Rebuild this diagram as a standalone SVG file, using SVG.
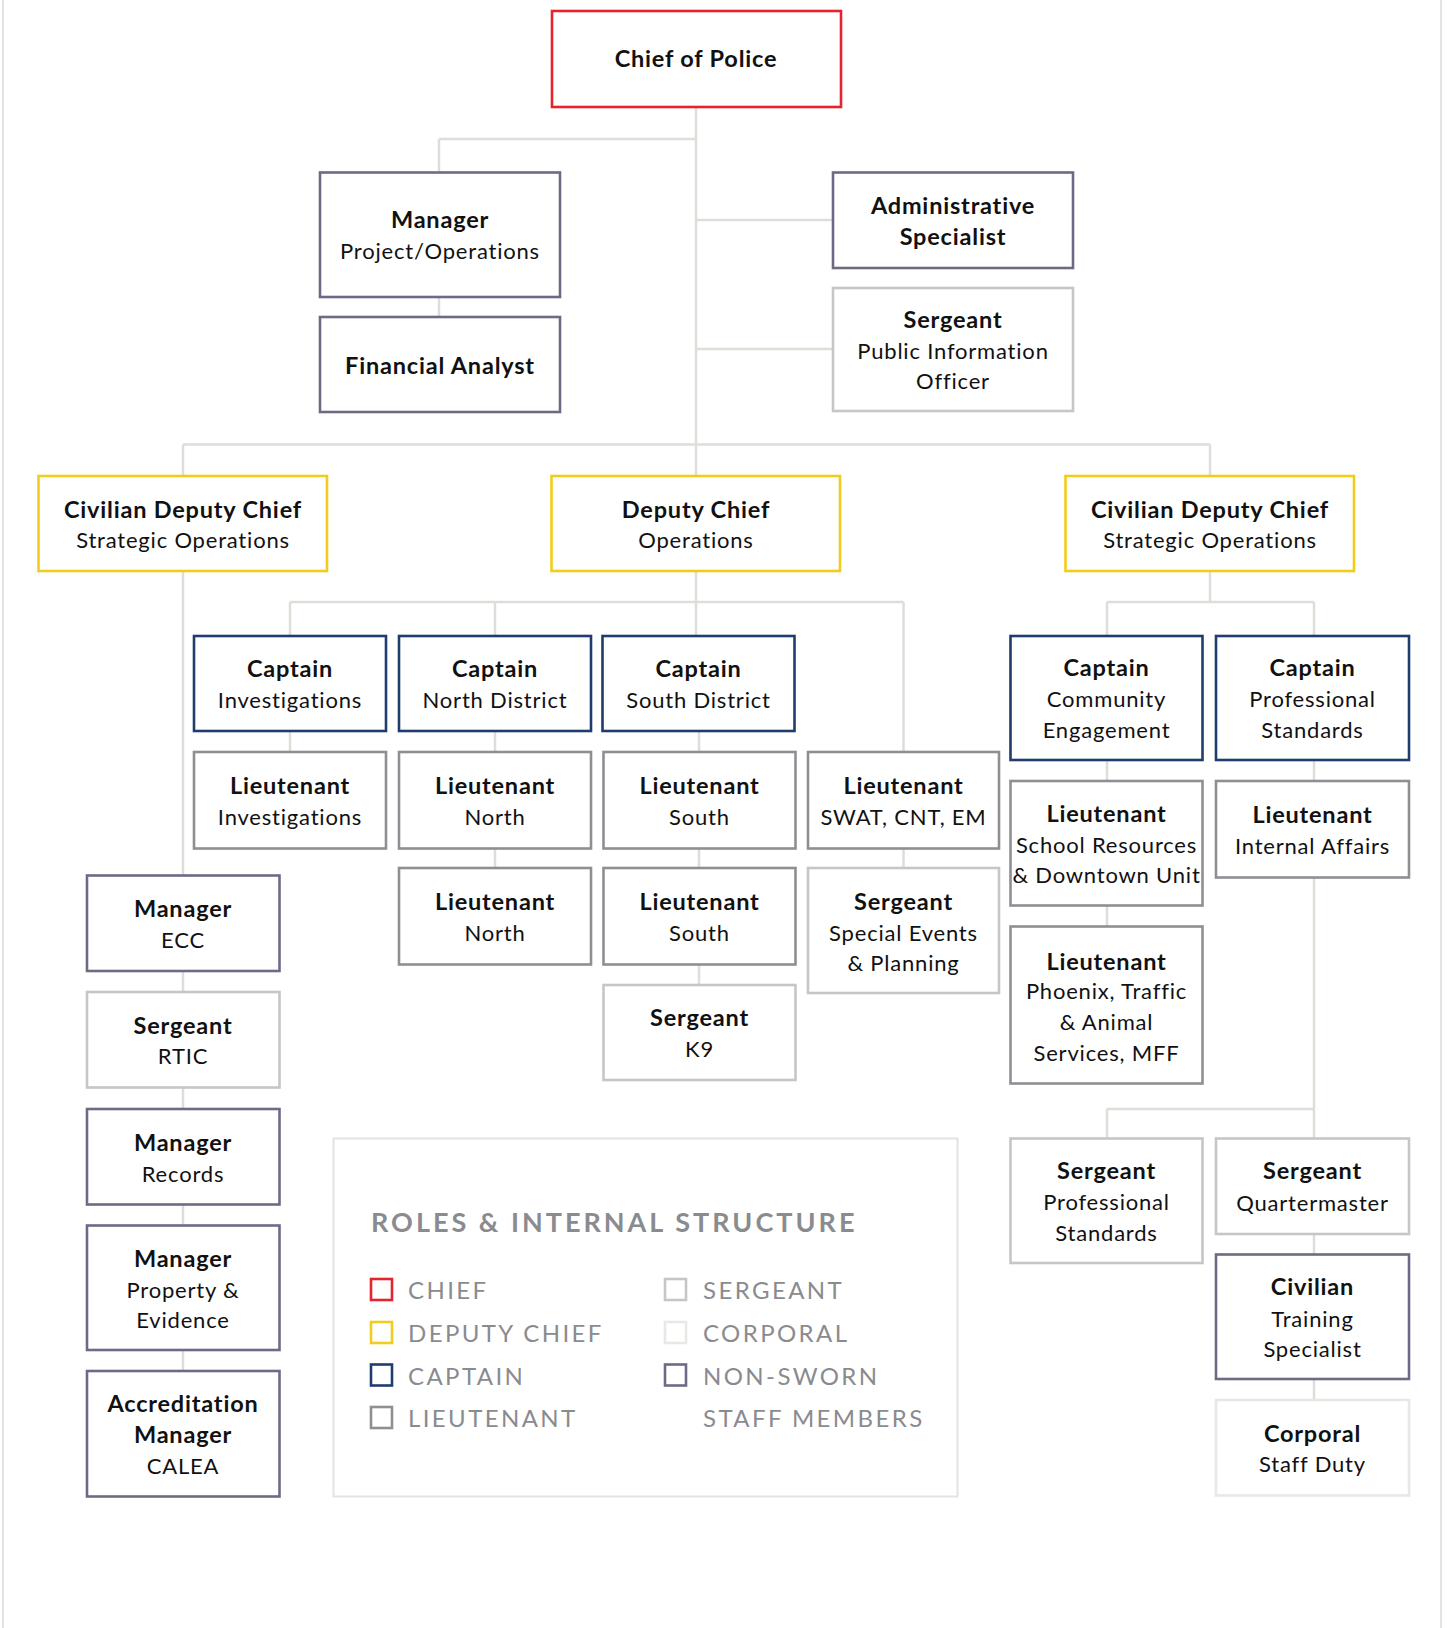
<svg xmlns="http://www.w3.org/2000/svg" width="1448" height="1628" viewBox="0 0 1448 1628">
<style>
.bg{fill:#ffffff}
.frame{stroke:#e3e3df;stroke-width:2;fill:none}
.c{stroke:#deddd8;stroke-width:2.5;fill:none}
rect.n{fill:#ffffff;stroke-width:2.6}
.chief{stroke:#e5232e}
.dep{stroke:#f2cc1b}
.cap{stroke:#1e3c6e}
.lt{stroke:#8e8f93}
.sgt{stroke:#c6c6c6}
.cpl{stroke:#e8e8e5}
.ns{stroke:#6e6a86}
text{font-family:"Lato","Noto Sans","Liberation Sans",sans-serif;text-anchor:middle;fill:#111111}
.t{font-weight:700;font-size:23.5px;letter-spacing:0.8px}
.s{font-weight:400;font-size:22px;letter-spacing:0.8px}
.lg{fill:#ffffff;stroke:#e3e3df;stroke-width:2}
.lh{font-weight:700;font-size:27px;letter-spacing:3px;fill:#8a8b8f;text-anchor:start}
.li{font-weight:400;font-size:24px;letter-spacing:2.4px;fill:#8a8b8f;text-anchor:start}
.sq{fill:none;stroke-width:2.6}
</style>
<rect class="bg" x="0" y="0" width="1448" height="1628"/>
<line class="frame" x1="3" y1="0" x2="3" y2="1628"/>
<line class="frame" x1="1441" y1="0" x2="1441" y2="1628"/>

<g id="connectors">
<path class="c" d="M696 107 V476 M439 139 H696 M439 139 V172 M439 297 V317 M696 220 H833 M696 349 H833 M183 444.5 H1210 M183 444.5 V476 M1210 444.5 V476"/>
<path class="c" d="M183 571 V1371"/>
<path class="c" d="M696 571 V636 M290 602 H903.5 M290 602 V636 M495 602 V636 M903.5 602 V752 M290 731 V752 M495 731 V868 M699 731 V985 M903.5 848 V868"/>
<path class="c" d="M1210 571 V602 M1107 602 H1314 M1107 602 V636 M1314 602 V1400 M1107 760 V926 M1107 1109 H1314 M1107 1109 V1138"/>
</g>

<g id="chief"><rect class="n chief" x="552" y="11" width="289" height="96"/><text class="t" x="696" y="67">Chief of Police</text></g>

<g id="mgr-project"><rect class="n ns" x="320" y="172.5" width="240" height="124.5"/><text class="t" x="440" y="228">Manager</text><text class="s" x="440" y="259">Project/Operations</text></g>
<g id="financial-analyst"><rect class="n ns" x="320" y="317" width="240" height="95"/><text class="t" x="440" y="373.5">Financial Analyst</text></g>
<g id="admin-specialist"><rect class="n ns" x="833" y="172.5" width="240" height="95.5"/><text class="t" x="953" y="213.5">Administrative</text><text class="t" x="953" y="244.5">Specialist</text></g>
<g id="sgt-pio"><rect class="n sgt" x="833" y="288" width="240" height="123"/><text class="t" x="953" y="328">Sergeant</text><text class="s" x="953" y="359">Public Information</text><text class="s" x="953" y="389">Officer</text></g>

<g id="civ-deputy-left"><rect class="n dep" x="38.5" y="476" width="288.5" height="95"/><text class="t" x="183" y="518">Civilian Deputy Chief</text><text class="s" x="183" y="548">Strategic Operations</text></g>
<g id="deputy-chief"><rect class="n dep" x="551.5" y="476" width="288.5" height="95"/><text class="t" x="696" y="518">Deputy Chief</text><text class="s" x="696" y="548">Operations</text></g>
<g id="civ-deputy-right"><rect class="n dep" x="1065.5" y="476" width="288.5" height="95"/><text class="t" x="1210" y="518">Civilian Deputy Chief</text><text class="s" x="1210" y="548">Strategic Operations</text></g>

<g id="cpt-investigations"><rect class="n cap" x="194" y="636" width="192" height="95"/><text class="t" x="290" y="677">Captain</text><text class="s" x="290" y="708">Investigations</text></g>
<g id="cpt-north"><rect class="n cap" x="399" y="636" width="192" height="95"/><text class="t" x="495" y="677">Captain</text><text class="s" x="495" y="708">North District</text></g>
<g id="cpt-south"><rect class="n cap" x="602.5" y="636" width="192" height="95"/><text class="t" x="698.5" y="677">Captain</text><text class="s" x="698.5" y="708">South District</text></g>

<g id="lt-investigations"><rect class="n lt" x="194" y="752" width="192" height="96.5"/><text class="t" x="290" y="794">Lieutenant</text><text class="s" x="290" y="825">Investigations</text></g>
<g id="lt-north-1"><rect class="n lt" x="399" y="752" width="192" height="96.5"/><text class="t" x="495" y="794">Lieutenant</text><text class="s" x="495" y="825">North</text></g>
<g id="lt-south-1"><rect class="n lt" x="603.5" y="752" width="192" height="96.5"/><text class="t" x="699.5" y="794">Lieutenant</text><text class="s" x="699.5" y="825">South</text></g>
<g id="lt-swat"><rect class="n lt" x="808" y="752" width="191" height="96.5"/><text class="t" x="903.5" y="794">Lieutenant</text><text class="s" x="903.5" y="825">SWAT, CNT, EM</text></g>

<g id="lt-north-2"><rect class="n lt" x="399" y="868" width="192" height="96.5"/><text class="t" x="495" y="909.5">Lieutenant</text><text class="s" x="495" y="940.5">North</text></g>
<g id="lt-south-2"><rect class="n lt" x="603.5" y="868" width="192" height="96.5"/><text class="t" x="699.5" y="909.5">Lieutenant</text><text class="s" x="699.5" y="940.5">South</text></g>
<g id="sgt-special-events"><rect class="n sgt" x="808" y="868" width="191" height="125"/><text class="t" x="903.5" y="909.5">Sergeant</text><text class="s" x="903.5" y="940.5">Special Events</text><text class="s" x="903.5" y="970.5">&amp; Planning</text></g>
<g id="sgt-k9"><rect class="n sgt" x="603.5" y="985" width="192" height="95"/><text class="t" x="699.5" y="1026">Sergeant</text><text class="s" x="699.5" y="1057">K9</text></g>

<g id="mgr-ecc"><rect class="n ns" x="87" y="875.5" width="192.5" height="95.5"/><text class="t" x="183" y="917">Manager</text><text class="s" x="183" y="948">ECC</text></g>
<g id="sgt-rtic"><rect class="n sgt" x="87" y="992" width="192.5" height="95.5"/><text class="t" x="183" y="1034">Sergeant</text><text class="s" x="183" y="1064">RTIC</text></g>
<g id="mgr-records"><rect class="n ns" x="87" y="1109" width="192.5" height="95.5"/><text class="t" x="183" y="1151">Manager</text><text class="s" x="183" y="1181.5">Records</text></g>
<g id="mgr-property"><rect class="n ns" x="87" y="1225.5" width="192.5" height="124.5"/><text class="t" x="183" y="1267">Manager</text><text class="s" x="183" y="1298">Property &amp;</text><text class="s" x="183" y="1328">Evidence</text></g>
<g id="accreditation"><rect class="n ns" x="87" y="1371" width="192.5" height="125.5"/><text class="t" x="183" y="1412">Accreditation</text><text class="t" x="183" y="1443">Manager</text><text class="s" x="183" y="1474">CALEA</text></g>

<g id="cpt-community"><rect class="n cap" x="1010.5" y="636" width="192" height="124"/><text class="t" x="1106.5" y="676">Captain</text><text class="s" x="1106.5" y="707">Community</text><text class="s" x="1106.5" y="738">Engagement</text></g>
<g id="cpt-professional"><rect class="n cap" x="1216" y="636" width="193" height="124"/><text class="t" x="1312.5" y="676">Captain</text><text class="s" x="1312.5" y="707">Professional</text><text class="s" x="1312.5" y="738">Standards</text></g>
<g id="lt-school"><rect class="n lt" x="1010.5" y="781" width="192" height="124.5"/><text class="t" x="1106.5" y="822">Lieutenant</text><text class="s" x="1106.5" y="853">School Resources</text><text class="s" x="1106.5" y="883">&amp; Downtown Unit</text></g>
<g id="lt-internal"><rect class="n lt" x="1216" y="781" width="193" height="96.5"/><text class="t" x="1312.5" y="823">Lieutenant</text><text class="s" x="1312.5" y="854">Internal Affairs</text></g>
<g id="lt-phoenix"><rect class="n lt" x="1010.5" y="926.5" width="192" height="157"/><text class="t" x="1106.5" y="970">Lieutenant</text><text class="s" x="1106.5" y="999">Phoenix, Traffic</text><text class="s" x="1106.5" y="1030">&amp; Animal</text><text class="s" x="1106.5" y="1061">Services, MFF</text></g>

<g id="sgt-professional"><rect class="n sgt" x="1010.5" y="1138.5" width="192" height="124.5"/><text class="t" x="1106.5" y="1179">Sergeant</text><text class="s" x="1106.5" y="1210">Professional</text><text class="s" x="1106.5" y="1241">Standards</text></g>
<g id="sgt-quartermaster"><rect class="n sgt" x="1216" y="1138.5" width="193" height="95.5"/><text class="t" x="1312.5" y="1179">Sergeant</text><text class="s" x="1312.5" y="1211">Quartermaster</text></g>
<g id="civ-training"><rect class="n ns" x="1216" y="1254.5" width="193" height="124.5"/><text class="t" x="1312.5" y="1295">Civilian</text><text class="s" x="1312.5" y="1327">Training</text><text class="s" x="1312.5" y="1357">Specialist</text></g>
<g id="cpl-staff-duty"><rect class="n cpl" x="1216" y="1400" width="193" height="95.5"/><text class="t" x="1312.5" y="1442">Corporal</text><text class="s" x="1312.5" y="1472">Staff Duty</text></g>

<g id="legend">
<rect class="lg" x="333.5" y="1138.5" width="624" height="358"/>
<text class="lh" x="371" y="1232">ROLES &amp; INTERNAL STRUCTURE</text>
<rect class="sq chief" x="371" y="1279" width="21" height="21"/><text class="li" x="408" y="1299">CHIEF</text>
<rect class="sq dep" x="371" y="1322" width="21" height="21"/><text class="li" x="408" y="1342">DEPUTY CHIEF</text>
<rect class="sq cap" x="371" y="1364.5" width="21" height="21"/><text class="li" x="408" y="1384.5">CAPTAIN</text>
<rect class="sq lt" x="371" y="1407" width="21" height="21"/><text class="li" x="408" y="1427">LIEUTENANT</text>
<rect class="sq sgt" x="665" y="1279" width="21" height="21"/><text class="li" x="703" y="1299">SERGEANT</text>
<rect class="sq cpl" x="665" y="1322" width="21" height="21"/><text class="li" x="703" y="1342">CORPORAL</text>
<rect class="sq ns" x="665" y="1364.5" width="21" height="21"/><text class="li" x="703" y="1384.5">NON-SWORN</text>
<text class="li" x="703" y="1427">STAFF MEMBERS</text>
</g>
</svg>
